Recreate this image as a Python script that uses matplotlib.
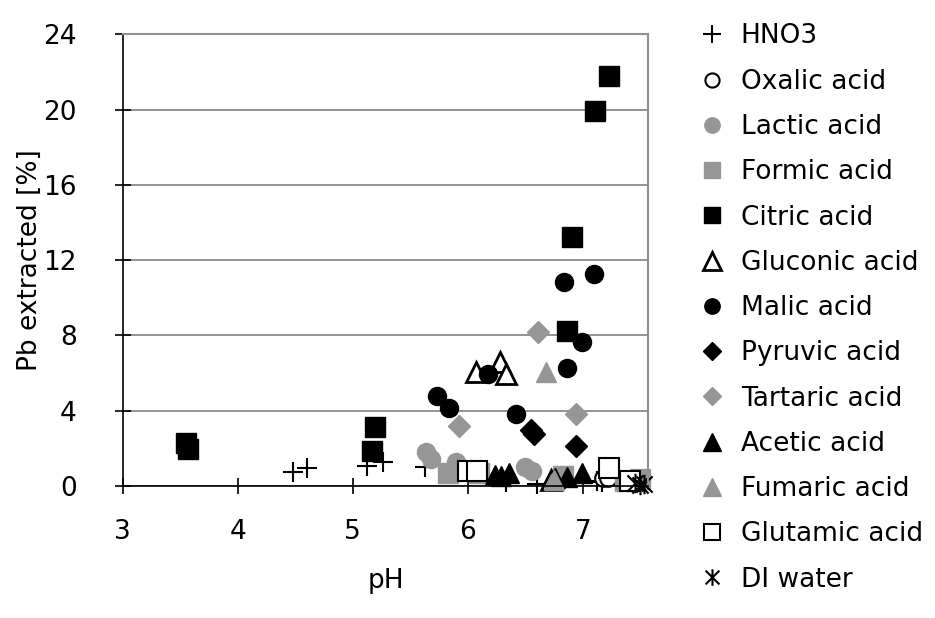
import matplotlib
matplotlib.use('Agg')
import matplotlib.pyplot as plt
from matplotlib.path import Path

plt.rcParams['font.family'] = ['DejaVu Sans']

GRAY = '#969696'

# pH / Pb extracted [%] per extractant
hno3_x = [4.48, 4.60, 5.12, 5.26, 5.63, 6.33, 6.60, 7.12, 7.17]
hno3_y = [0.76, 0.97, 1.06, 1.30, 1.00, 0.20, 0.10, 0.25, 0.20]
oxalic_x = [7.18, 7.22]
oxalic_y = [0.40, 0.45]
lactic_x = [5.64, 5.68, 5.90, 6.50, 6.56]
lactic_y = [1.80, 1.45, 1.30, 1.00, 0.80]
formic_x = [5.83, 6.10, 6.83, 7.37, 7.50]
formic_y = [0.70, 0.70, 0.55, 0.25, 0.35]
citric_x = [3.55, 3.57, 5.17, 5.19, 6.86, 6.91, 7.11, 7.23]
citric_y = [2.28, 1.96, 1.86, 3.13, 8.23, 13.24, 19.9, 21.8]
gluconic_x = [6.07, 6.28, 6.33, 6.72]
gluconic_y = [6.07, 6.60, 5.95, 0.30]
malic_x = [5.73, 5.84, 6.18, 6.42, 6.84, 6.86, 6.99, 7.10]
malic_y = [4.78, 4.13, 5.95, 3.82, 10.82, 6.25, 7.66, 11.24]
pyruvic_x = [6.55, 6.58, 6.94]
pyruvic_y = [3.00, 2.75, 2.14]
tartaric_x = [5.92, 6.61, 6.94]
tartaric_y = [3.19, 8.20, 3.82]
acetic_x = [6.24, 6.29, 6.36, 6.76, 6.86, 6.99]
acetic_y = [0.58, 0.55, 0.67, 0.41, 0.50, 0.67]
fumaric_x = [6.68, 6.75]
fumaric_y = [6.07, 0.30]
glutamic_x = [6.00, 6.08, 7.23, 7.41]
glutamic_y = [0.80, 0.80, 0.94, 0.25]
water_x = [7.45, 7.50, 7.53]
water_y = [0.15, 0.05, 0.10]

# x with a vertical bar, like the spreadsheet asterisk
star = Path([(-1, -1), (1, 1), (-1, 1), (1, -1), (0, -1.2), (0, 1.2)],
            [Path.MOVETO, Path.LINETO, Path.MOVETO, Path.LINETO, Path.MOVETO, Path.LINETO])

series = [
    ('HNO3', hno3_x, hno3_y, dict(marker='+', color='black', ms=15, mew=1.5)),
    ('Oxalic acid', oxalic_x, oxalic_y, dict(marker='o', mfc='white', mec='black', ms=12, mew=1.5)),
    ('Lactic acid', lactic_x, lactic_y, dict(marker='o', color=GRAY, ms=13)),
    ('Formic acid', formic_x, formic_y, dict(marker='s', color=GRAY, ms=14)),
    ('Citric acid', citric_x, citric_y, dict(marker='s', color='black', ms=14)),
    ('Gluconic acid', gluconic_x, gluconic_y, dict(marker='^', mfc='white', mec='black', ms=15, mew=2)),
    ('Malic acid', malic_x, malic_y, dict(marker='o', color='black', ms=13)),
    ('Pyruvic acid', pyruvic_x, pyruvic_y, dict(marker='D', color='black', ms=11)),
    ('Tartaric acid', tartaric_x, tartaric_y, dict(marker='D', color=GRAY, ms=11)),
    ('Acetic acid', acetic_x, acetic_y, dict(marker='^', color='black', ms=15)),
    ('Fumaric acid', fumaric_x, fumaric_y, dict(marker='^', color=GRAY, ms=15)),
    ('Glutamic acid', glutamic_x, glutamic_y, dict(marker='s', mfc='white', mec='black', ms=14, mew=1.5)),
    ('DI water', water_x, water_y, dict(marker=star, color='black', ms=14, mew=1.5)),
]

fig = plt.figure(figsize=(9.35, 6.18), dpi=100)
ax = fig.add_axes([0.1312, 0.2136, 0.5622, 0.7309])

handles = []
for name, xs, ys, style in series:
    h, = ax.plot(xs, ys, linestyle='none', label=name, clip_on=False, **style)
    handles.append(h)

ax.set_xlim(3, 7.57)
ax.set_ylim(0, 24)
ax.set_xticks([3, 4, 5, 6, 7])
ax.set_yticks(range(0, 25, 4))
ax.yaxis.grid(True, color='#808080', linewidth=1.2)
ax.set_axisbelow(True)

for side in ['top', 'right']:
    ax.spines[side].set_color('#909090')
    ax.spines[side].set_linewidth(1.5)
for side in ['left', 'bottom']:
    ax.spines[side].set_color('black')
    ax.spines[side].set_linewidth(1.2)

ax.tick_params(direction='inout', length=12, width=1.2, labelsize=19)
ax.tick_params(axis='x', pad=18)
ax.tick_params(axis='y', pad=27)
ax.set_xlabel('pH', fontsize=19, labelpad=16)
ax.set_ylabel('Pb extracted [%]', fontsize=19, labelpad=0)

fig.legend(handles=handles, loc='upper left', bbox_to_anchor=(0.750, 0.962),
           frameon=False, fontsize=19, markerscale=0.85, handlelength=0.8,
           handletextpad=0.7, labelspacing=0.73, borderaxespad=0, borderpad=0)

fig.savefig('out.png', dpi=100, facecolor='white')
